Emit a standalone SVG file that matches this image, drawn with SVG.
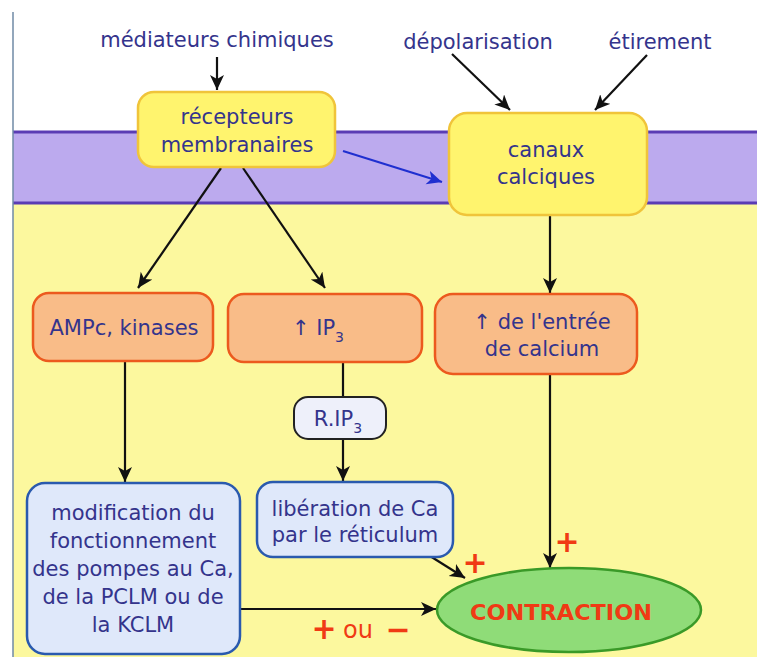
<svg xmlns="http://www.w3.org/2000/svg" width="757" height="657" viewBox="0 0 757 657">
<defs>
<style>
.t{font-family:"DejaVu Sans","Noto Sans",sans-serif;font-size:21px;fill:#34348c;text-anchor:middle}
.y{fill:#fff46e;stroke:#f0c43a;stroke-width:2.5}
.o{fill:#f9bc88;stroke:#ec5a1e;stroke-width:2.5}
.b{fill:#dfe8fa;stroke:#2a5aae;stroke-width:2.5}
.w{fill:#eef0fa;stroke:#222;stroke-width:2}
.c{stroke:#111;stroke-width:2.2;fill:none}
.r{font-family:"DejaVu Sans","Noto Sans",sans-serif;fill:#f03a14;text-anchor:middle}
</style>
<marker id="ah" markerUnits="userSpaceOnUse" markerWidth="18" markerHeight="16" refX="15" refY="7" orient="auto">
<path d="M0,0 L15,7 L0,14 L4,7 Z" fill="#111"/>
</marker>
<marker id="ahb" markerUnits="userSpaceOnUse" markerWidth="18" markerHeight="16" refX="15" refY="7" orient="auto">
<path d="M0,0 L15,7 L0,14 L4,7 Z" fill="#1f2fd0"/>
</marker>
</defs>
<rect x="0" y="0" width="757" height="657" fill="#ffffff"/>
<rect x="13" y="203" width="744" height="454" fill="#fcf89e"/>
<rect x="13" y="132" width="744" height="71" fill="#bcaaee"/>
<line x1="13" y1="132" x2="757" y2="132" stroke="#5a3cb4" stroke-width="3"/>
<line x1="13" y1="203" x2="757" y2="203" stroke="#5a3cb4" stroke-width="3"/>
<line x1="13" y1="12" x2="13" y2="657" stroke="#6f8aa6" stroke-width="1.5"/>

<text class="t" x="217" y="47">médiateurs chimiques</text>
<text class="t" x="478" y="49">dépolarisation</text>
<text class="t" x="660" y="49">étirement</text>

<g id="connectors">
<line class="c" x1="217" y1="57" x2="217" y2="90" marker-end="url(#ah)"/>
<line class="c" x1="452" y1="54" x2="510" y2="110" marker-end="url(#ah)"/>
<line class="c" x1="647" y1="55" x2="595" y2="110" marker-end="url(#ah)"/>
<line x1="343" y1="151" x2="442" y2="182" stroke="#1f2fd0" stroke-width="2" marker-end="url(#ahb)"/>
<line class="c" x1="221" y1="168" x2="138" y2="288" marker-end="url(#ah)"/>
<line class="c" x1="243" y1="168" x2="325" y2="288" marker-end="url(#ah)"/>
<line class="c" x1="550" y1="215" x2="550" y2="293" marker-end="url(#ah)"/>
<line class="c" x1="125" y1="361" x2="125" y2="482" marker-end="url(#ah)"/>
<line class="c" x1="343" y1="362" x2="343" y2="397"/>
<line class="c" x1="343" y1="439" x2="343" y2="481" marker-end="url(#ah)"/>
<line class="c" x1="430" y1="556" x2="465" y2="578" marker-end="url(#ah)"/>
<line class="c" x1="550" y1="374" x2="550" y2="568" marker-end="url(#ah)"/>
<line class="c" x1="222" y1="609" x2="436" y2="609" marker-end="url(#ah)"/>
</g>

<g id="recepteurs">
<rect class="y" x="138" y="92" width="197" height="75" rx="16"/>
<text class="t" x="237" y="124">récepteurs</text>
<text class="t" x="237" y="152">membranaires</text>
</g>
<g id="canaux">
<rect class="y" x="449" y="113" width="198" height="102" rx="18"/>
<text class="t" x="546" y="157">canaux</text>
<text class="t" x="546" y="184">calciques</text>
</g>
<g id="ampc">
<rect class="o" x="33" y="293" width="180" height="68" rx="16"/>
<text class="t" x="124" y="335">AMPc, kinases</text>
</g>
<g id="ip3">
<rect class="o" x="228" y="294" width="194" height="68" rx="16"/>
<text class="t" x="318" y="335">↑ IP<tspan font-size="14" dy="7">3</tspan></text>
</g>
<g id="entree">
<rect class="o" x="435" y="294" width="202" height="80" rx="18"/>
<text class="t" x="542" y="329">↑ de l'entrée</text>
<text class="t" x="542" y="356">de calcium</text>
</g>
<g id="rip3">
<rect class="w" x="294" y="397" width="92" height="42" rx="14"/>
<text class="t" x="338" y="426">R.IP<tspan font-size="14" dy="7">3</tspan></text>
</g>
<g id="modification">
<rect class="b" x="27" y="483" width="213" height="171" rx="18"/>
<text class="t" x="133" y="520">modification du</text>
<text class="t" x="133" y="548">fonctionnement</text>
<text class="t" x="133" y="576">des pompes au Ca,</text>
<text class="t" x="133" y="604">de la PCLM ou de</text>
<text class="t" x="133" y="632">la KCLM</text>
</g>
<g id="liberation">
<rect class="b" x="257" y="482" width="196" height="75" rx="16"/>
<text class="t" x="355" y="516">libération de Ca</text>
<text class="t" x="355" y="542">par le réticulum</text>
</g>
<g id="contraction">
<ellipse cx="569" cy="610" rx="132" ry="42" fill="#8fdc78" stroke="#3a9a28" stroke-width="2.5"/>
<text class="r" x="561" y="620" font-size="22" font-weight="bold" textLength="182" lengthAdjust="spacingAndGlyphs">CONTRACTION</text>
</g>
<text class="r" x="475" y="573" font-size="30" font-weight="bold">+</text>
<text class="r" x="567" y="552" font-size="30" font-weight="bold">+</text>
<text class="r" x="324" y="639" font-size="30" font-weight="bold">+</text>
<text class="r" x="358" y="638" font-size="24">ou</text>
<text class="r" x="398" y="640" font-size="30" font-weight="bold">−</text>
</svg>
